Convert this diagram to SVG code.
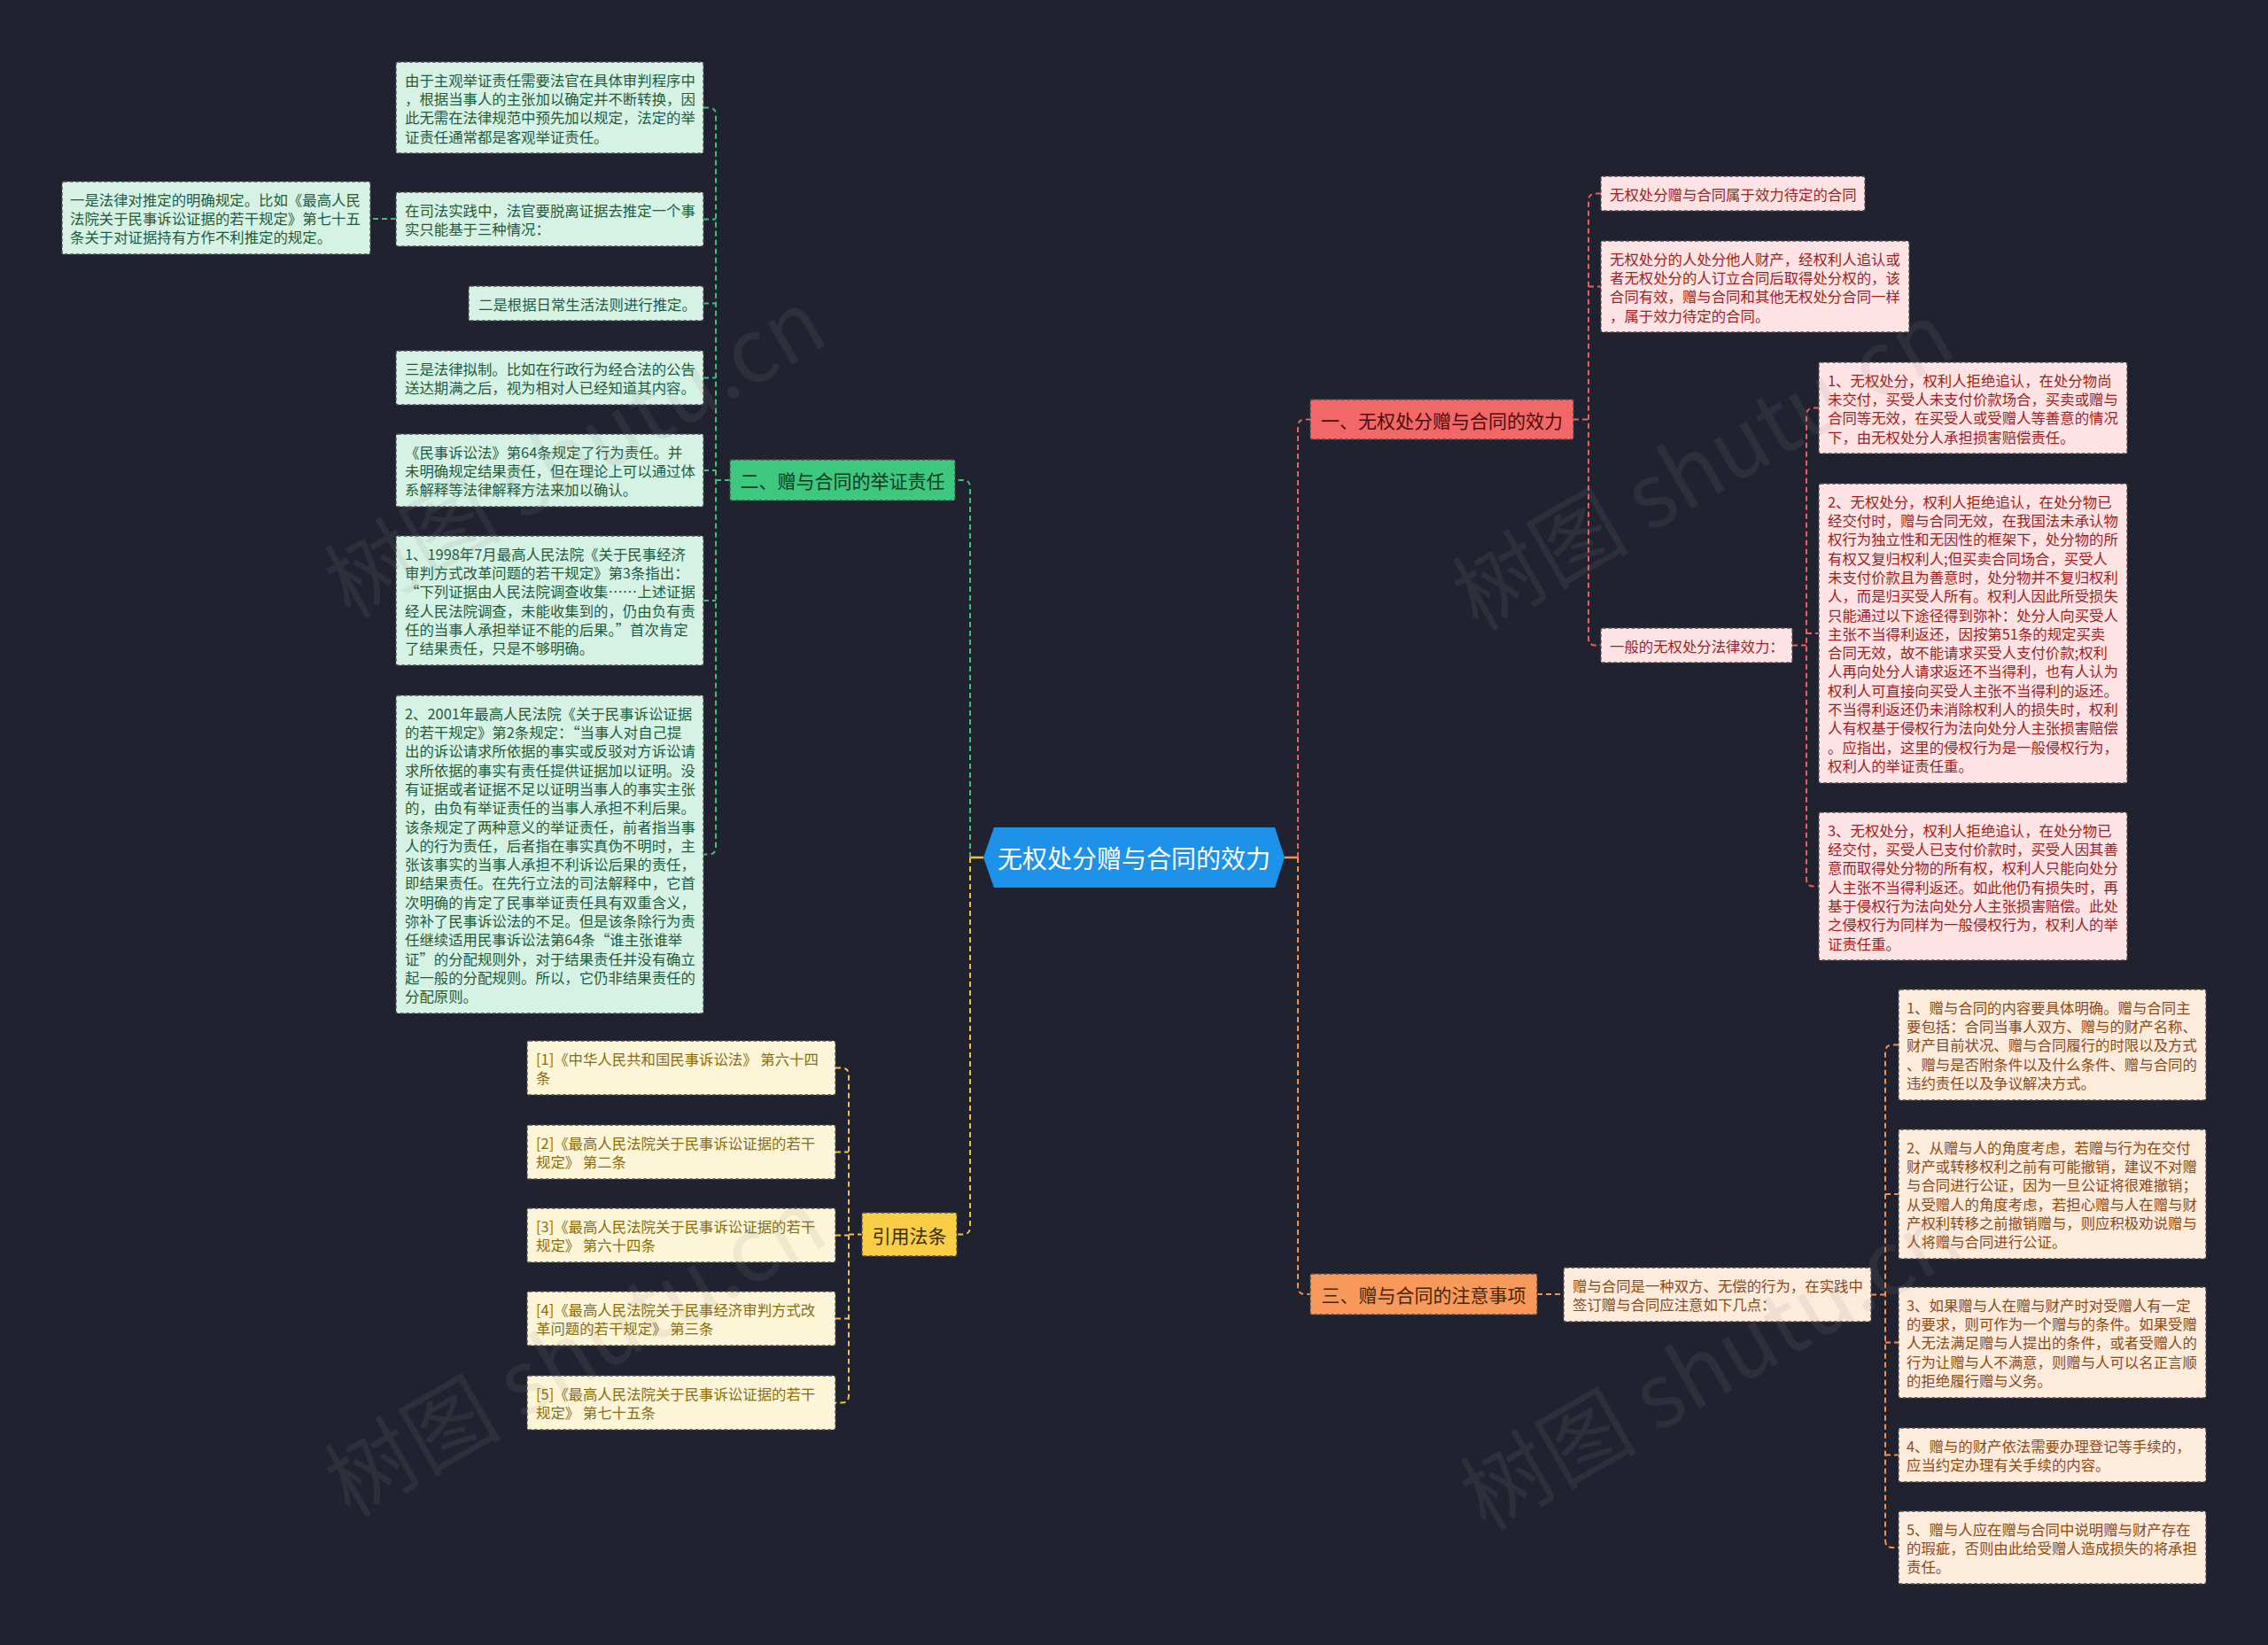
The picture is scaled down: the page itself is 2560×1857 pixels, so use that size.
<svg xmlns="http://www.w3.org/2000/svg" width="2560" height="1857" viewBox="0 0 2560 1857">
<style>
text{font-family:"Noto Sans CJK SC","Noto Sans",sans-serif;dominant-baseline:central}
.leaf{stroke:#4b4b4b;stroke-width:1.3;stroke-dasharray:4 2.5}
.gl{fill:#d6f2e4}.rl{fill:#fde3e3}.ol{fill:#fdebdc}.yl{fill:#fdf5d7}
.t{font-size:16.4px}
.tg{fill:#1f5c3d}.tr{fill:#9e1f1f}.to{fill:#8c4a17}.ty{fill:#8a6d12}
.br{font-size:21px;text-anchor:middle}
.conn path{fill:none;stroke-width:2;stroke-dasharray:6 4}
.cg{stroke:#3dbf7d}.cy{stroke:#f0c23f}.cr{stroke:#e86060}.co{stroke:#f4914f}
.wm{font-size:100px;fill:#8a8a8a;fill-opacity:0.12;text-anchor:middle}
</style>
<rect width="2560" height="1857" fill="#20232f"/>

<g id="connectors" class="conn">
  <line x1="1095" y1="968" x2="1110" y2="968" stroke="#f0c23f" stroke-width="2.5"/>
  <line x1="1450" y1="968" x2="1465" y2="968" stroke="#f4914f" stroke-width="2.5"/>
  <path class="cg" d="M1095,968 V550 Q1095,542 1087,542 H1078"/>
  <path class="cg" d="M794,121.5 H800 Q808,121.5 808,129.5 V956.5 Q808,964.5 800,964.5 H794 M794,247.5 H808 M794,342.5 H808 M794,426.5 H808 M794,531 H808 M794,678 H808 M808,542 H824 M447,247 H418"/>
  <path class="cy" d="M1095,968 V1385.5 Q1095,1393.5 1087,1393.5 H1080"/>
  <path class="cy" d="M943,1205.5 H950 Q958,1205.5 958,1213.5 V1575.5 Q958,1583.5 950,1583.5 H943 M943,1300.5 H958 M943,1394.5 H958 M943,1488.5 H958 M958,1393.5 H973"/>
  <path class="cr" d="M1465,968 V481.5 Q1465,473.5 1473,473.5 H1479"/>
  <path class="cr" d="M1807,218.5 H1801 Q1793,218.5 1793,226.5 V720.5 Q1793,728.5 1801,728.5 H1807 M1793,323.5 H1807 M1776,473.5 H1793"/>
  <path class="cr" d="M2053,460.5 H2047 Q2039,460.5 2039,468.5 V992.5 Q2039,1000.5 2047,1000.5 H2053 M2039,715 H2053 M2023,728.5 H2039"/>
  <path class="co" d="M1465,968 V1453 Q1465,1461 1473,1461 H1479 M1735,1461 H1765"/>
  <path class="co" d="M2143,1179.5 H2136 Q2128,1179.5 2128,1187.5 V1739 Q2128,1747 2136,1747 H2143 M2128,1348 H2143 M2128,1515.5 H2143 M2128,1642.5 H2143 M2112,1461.5 H2128"/>
</g>

<g id="center">
  <polygon points="1110,968 1122,934 1439,934 1450,968 1439,1002 1122,1002" fill="#1e91e8"/>
  <text x="1280" y="968" font-size="28" fill="#ffffff" text-anchor="middle">无权处分赠与合同的效力</text>
</g>

<g id="branch-green">
  <rect x="824" y="519" width="254" height="46" rx="2" fill="#3ec77f" class="leaf"/>
  <text class="br" x="951" y="542" fill="#0f3a22">二、赠与合同的举证责任</text>
</g>
<g id="branch-yellow">
  <rect x="973" y="1369" width="107" height="49" rx="2" fill="#f9cd46" class="leaf"/>
  <text class="br" x="1026.5" y="1393.5" fill="#3a2c00">引用法条</text>
</g>
<g id="branch-red">
  <rect x="1479" y="451" width="297" height="45" rx="2" fill="#f26767" class="leaf"/>
  <text class="br" x="1627.5" y="473.5" fill="#4b0e0e">一、无权处分赠与合同的效力</text>
</g>
<g id="branch-orange">
  <rect x="1479" y="1438" width="256" height="46" rx="2" fill="#f7995a" class="leaf"/>
  <text class="br" x="1607" y="1461" fill="#4d2508">三、赠与合同的注意事项</text>
</g>

<g id="g1"><rect class="leaf gl" x="447" y="70" width="347" height="103" rx="2"/>
<text class="t tg"><tspan x="457" y="89.7">由于主观举证责任需要法官在具体审判程序中</tspan><tspan x="457" dy="21.3">，根据当事人的主张加以确定并不断转换，因</tspan><tspan x="457" dy="21.3">此无需在法律规范中预先加以规定，法定的举</tspan><tspan x="457" dy="21.3">证责任通常都是客观举证责任。</tspan></text></g>
<g id="g2"><rect class="leaf gl" x="447" y="217" width="347" height="61" rx="2"/>
<text class="t tg"><tspan x="457" y="236.7">在司法实践中，法官要脱离证据去推定一个事</tspan><tspan x="457" dy="21.3">实只能基于三种情况：</tspan></text></g>
<g id="g0"><rect class="leaf gl" x="70" y="205" width="348" height="82" rx="2"/>
<text class="t tg"><tspan x="79" y="224.7">一是法律对推定的明确规定。比如《最高人民</tspan><tspan x="79" dy="21.3">法院关于民事诉讼证据的若干规定》第七十五</tspan><tspan x="79" dy="21.3">条关于对证据持有方作不利推定的规定。</tspan></text></g>
<g id="g3"><rect class="leaf gl" x="529" y="323" width="265" height="39" rx="2"/>
<text class="t tg" x="540" y="342.7">二是根据日常生活法则进行推定。</text></g>
<g id="g4"><rect class="leaf gl" x="447" y="396" width="347" height="61" rx="2"/>
<text class="t tg"><tspan x="457" y="415.7">三是法律拟制。比如在行政行为经合法的公告</tspan><tspan x="457" dy="21.3">送达期满之后，视为相对人已经知道其内容。</tspan></text></g>
<g id="g5"><rect class="leaf gl" x="447" y="490" width="347" height="82" rx="2"/>
<text class="t tg"><tspan x="457" y="509.7">《民事诉讼法》第64条规定了行为责任。并</tspan><tspan x="457" dy="21.3">未明确规定结果责任，但在理论上可以通过体</tspan><tspan x="457" dy="21.3">系解释等法律解释方法来加以确认。</tspan></text></g>
<g id="g6"><rect class="leaf gl" x="447" y="605" width="347" height="146" rx="2"/>
<text class="t tg"><tspan x="457" y="624.7">1、1998年7月最高人民法院《关于民事经济</tspan><tspan x="457" dy="21.3">审判方式改革问题的若干规定》第3条指出：</tspan><tspan x="457" dy="21.3">“下列证据由人民法院调查收集……上述证据</tspan><tspan x="457" dy="21.3">经人民法院调查，未能收集到的，仍由负有责</tspan><tspan x="457" dy="21.3">任的当事人承担举证不能的后果。”首次肯定</tspan><tspan x="457" dy="21.3">了结果责任，只是不够明确。</tspan></text></g>
<g id="g7"><rect class="leaf gl" x="447" y="785" width="347" height="359" rx="2"/>
<text class="t tg"><tspan x="457" y="804.7">2、2001年最高人民法院《关于民事诉讼证据</tspan><tspan x="457" dy="21.3">的若干规定》第2条规定：“当事人对自己提</tspan><tspan x="457" dy="21.3">出的诉讼请求所依据的事实或反驳对方诉讼请</tspan><tspan x="457" dy="21.3">求所依据的事实有责任提供证据加以证明。没</tspan><tspan x="457" dy="21.3">有证据或者证据不足以证明当事人的事实主张</tspan><tspan x="457" dy="21.3">的，由负有举证责任的当事人承担不利后果。</tspan><tspan x="457" dy="21.3">该条规定了两种意义的举证责任，前者指当事</tspan><tspan x="457" dy="21.3">人的行为责任，后者指在事实真伪不明时，主</tspan><tspan x="457" dy="21.3">张该事实的当事人承担不利诉讼后果的责任，</tspan><tspan x="457" dy="21.3">即结果责任。在先行立法的司法解释中，它首</tspan><tspan x="457" dy="21.3">次明确的肯定了民事举证责任具有双重含义，</tspan><tspan x="457" dy="21.3">弥补了民事诉讼法的不足。但是该条除行为责</tspan><tspan x="457" dy="21.3">任继续适用民事诉讼法第64条“谁主张谁举</tspan><tspan x="457" dy="21.3">证”的分配规则外，对于结果责任并没有确立</tspan><tspan x="457" dy="21.3">起一般的分配规则。所以，它仍非结果责任的</tspan><tspan x="457" dy="21.3">分配原则。</tspan></text></g>

<g id="c1"><rect class="leaf yl" x="595" y="1175" width="348" height="61" rx="2"/>
<text class="t ty"><tspan x="605" y="1194.7">[1]《中华人民共和国民事诉讼法》 第六十四</tspan><tspan x="605" dy="21.3">条</tspan></text></g>
<g id="c2"><rect class="leaf yl" x="595" y="1270" width="348" height="61" rx="2"/>
<text class="t ty"><tspan x="605" y="1289.7">[2]《最高人民法院关于民事诉讼证据的若干</tspan><tspan x="605" dy="21.3">规定》 第二条</tspan></text></g>
<g id="c3"><rect class="leaf yl" x="595" y="1364" width="348" height="61" rx="2"/>
<text class="t ty"><tspan x="605" y="1383.7">[3]《最高人民法院关于民事诉讼证据的若干</tspan><tspan x="605" dy="21.3">规定》 第六十四条</tspan></text></g>
<g id="c4"><rect class="leaf yl" x="595" y="1458" width="348" height="61" rx="2"/>
<text class="t ty"><tspan x="605" y="1477.7">[4]《最高人民法院关于民事经济审判方式改</tspan><tspan x="605" dy="21.3">革问题的若干规定》 第三条</tspan></text></g>
<g id="c5"><rect class="leaf yl" x="595" y="1553" width="348" height="61" rx="2"/>
<text class="t ty"><tspan x="605" y="1572.7">[5]《最高人民法院关于民事诉讼证据的若干</tspan><tspan x="605" dy="21.3">规定》 第七十五条</tspan></text></g>

<g id="r1"><rect class="leaf rl" x="1807" y="199" width="298" height="39" rx="2"/>
<text class="t tr" x="1817" y="218.7">无权处分赠与合同属于效力待定的合同</text></g>
<g id="r2"><rect class="leaf rl" x="1807" y="272" width="348" height="103" rx="2"/>
<text class="t tr"><tspan x="1817" y="291.7">无权处分的人处分他人财产，经权利人追认或</tspan><tspan x="1817" dy="21.3">者无权处分的人订立合同后取得处分权的，该</tspan><tspan x="1817" dy="21.3">合同有效，赠与合同和其他无权处分合同一样</tspan><tspan x="1817" dy="21.3">，属于效力待定的合同。</tspan></text></g>
<g id="r3"><rect class="leaf rl" x="1807" y="709" width="216" height="39" rx="2"/>
<text class="t tr" x="1817" y="728.7">一般的无权处分法律效力：</text></g>
<g id="r4"><rect class="leaf rl" x="2053" y="409" width="348" height="103" rx="2"/>
<text class="t tr"><tspan x="2063" y="428.7">1、无权处分，权利人拒绝追认，在处分物尚</tspan><tspan x="2063" dy="21.3">未交付，买受人未支付价款场合，买卖或赠与</tspan><tspan x="2063" dy="21.3">合同等无效，在买受人或受赠人等善意的情况</tspan><tspan x="2063" dy="21.3">下，由无权处分人承担损害赔偿责任。</tspan></text></g>
<g id="r5"><rect class="leaf rl" x="2053" y="546" width="348" height="338" rx="2"/>
<text class="t tr"><tspan x="2063" y="565.7">2、无权处分，权利人拒绝追认，在处分物已</tspan><tspan x="2063" dy="21.3">经交付时，赠与合同无效，在我国法未承认物</tspan><tspan x="2063" dy="21.3">权行为独立性和无因性的框架下，处分物的所</tspan><tspan x="2063" dy="21.3">有权又复归权利人;但买卖合同场合，买受人</tspan><tspan x="2063" dy="21.3">未支付价款且为善意时，处分物并不复归权利</tspan><tspan x="2063" dy="21.3">人，而是归买受人所有。权利人因此所受损失</tspan><tspan x="2063" dy="21.3">只能通过以下途径得到弥补：处分人向买受人</tspan><tspan x="2063" dy="21.3">主张不当得利返还，因按第51条的规定买卖</tspan><tspan x="2063" dy="21.3">合同无效，故不能请求买受人支付价款;权利</tspan><tspan x="2063" dy="21.3">人再向处分人请求返还不当得利，也有人认为</tspan><tspan x="2063" dy="21.3">权利人可直接向买受人主张不当得利的返还。</tspan><tspan x="2063" dy="21.3">不当得利返还仍未消除权利人的损失时，权利</tspan><tspan x="2063" dy="21.3">人有权基于侵权行为法向处分人主张损害赔偿</tspan><tspan x="2063" dy="21.3">。应指出，这里的侵权行为是一般侵权行为，</tspan><tspan x="2063" dy="21.3">权利人的举证责任重。</tspan></text></g>
<g id="r6"><rect class="leaf rl" x="2053" y="917" width="348" height="167" rx="2"/>
<text class="t tr"><tspan x="2063" y="936.7">3、无权处分，权利人拒绝追认，在处分物已</tspan><tspan x="2063" dy="21.3">经交付，买受人已支付价款时，买受人因其善</tspan><tspan x="2063" dy="21.3">意而取得处分物的所有权，权利人只能向处分</tspan><tspan x="2063" dy="21.3">人主张不当得利返还。如此他仍有损失时，再</tspan><tspan x="2063" dy="21.3">基于侵权行为法向处分人主张损害赔偿。此处</tspan><tspan x="2063" dy="21.3">之侵权行为同样为一般侵权行为，权利人的举</tspan><tspan x="2063" dy="21.3">证责任重。</tspan></text></g>

<g id="o0"><rect class="leaf ol" x="1765" y="1431" width="347" height="61" rx="2"/>
<text class="t to"><tspan x="1775" y="1450.7">赠与合同是一种双方、无偿的行为，在实践中</tspan><tspan x="1775" dy="21.3">签订赠与合同应注意如下几点：</tspan></text></g>
<g id="o1"><rect class="leaf ol" x="2143" y="1117" width="347" height="125" rx="2"/>
<text class="t to"><tspan x="2152" y="1136.7">1、赠与合同的内容要具体明确。赠与合同主</tspan><tspan x="2152" dy="21.3">要包括：合同当事人双方、赠与的财产名称、</tspan><tspan x="2152" dy="21.3">财产目前状况、赠与合同履行的时限以及方式</tspan><tspan x="2152" dy="21.3">、赠与是否附条件以及什么条件、赠与合同的</tspan><tspan x="2152" dy="21.3">违约责任以及争议解决方式。</tspan></text></g>
<g id="o2"><rect class="leaf ol" x="2143" y="1275" width="347" height="146" rx="2"/>
<text class="t to"><tspan x="2152" y="1294.7">2、从赠与人的角度考虑，若赠与行为在交付</tspan><tspan x="2152" dy="21.3">财产或转移权利之前有可能撤销，建议不对赠</tspan><tspan x="2152" dy="21.3">与合同进行公证，因为一旦公证将很难撤销；</tspan><tspan x="2152" dy="21.3">从受赠人的角度考虑，若担心赠与人在赠与财</tspan><tspan x="2152" dy="21.3">产权利转移之前撤销赠与，则应积极劝说赠与</tspan><tspan x="2152" dy="21.3">人将赠与合同进行公证。</tspan></text></g>
<g id="o3"><rect class="leaf ol" x="2143" y="1453" width="347" height="125" rx="2"/>
<text class="t to"><tspan x="2152" y="1472.7">3、如果赠与人在赠与财产时对受赠人有一定</tspan><tspan x="2152" dy="21.3">的要求，则可作为一个赠与的条件。如果受赠</tspan><tspan x="2152" dy="21.3">人无法满足赠与人提出的条件，或者受赠人的</tspan><tspan x="2152" dy="21.3">行为让赠与人不满意，则赠与人可以名正言顺</tspan><tspan x="2152" dy="21.3">的拒绝履行赠与义务。</tspan></text></g>
<g id="o4"><rect class="leaf ol" x="2143" y="1612" width="347" height="61" rx="2"/>
<text class="t to"><tspan x="2152" y="1631.7">4、赠与的财产依法需要办理登记等手续的，</tspan><tspan x="2152" dy="21.3">应当约定办理有关手续的内容。</tspan></text></g>
<g id="o5"><rect class="leaf ol" x="2143" y="1706" width="347" height="82" rx="2"/>
<text class="t to"><tspan x="2152" y="1725.7">5、赠与人应在赠与合同中说明赠与财产存在</tspan><tspan x="2152" dy="21.3">的瑕疵，否则由此给受赠人造成损失的将承担</tspan><tspan x="2152" dy="21.3">责任。</tspan></text></g>

<g id="watermarks">
  <text class="wm" x="645" y="505" transform="rotate(-30 645 505)">树图 shutu.cn</text>
  <text class="wm" x="645" y="1520" transform="rotate(-30 645 1520)">树图 shutu.cn</text>
  <text class="wm" x="1918" y="519" transform="rotate(-30 1918 519)">树图 shutu.cn</text>
  <text class="wm" x="1927" y="1535" transform="rotate(-30 1927 1535)">树图 shutu.cn</text>
</g>
</svg>
